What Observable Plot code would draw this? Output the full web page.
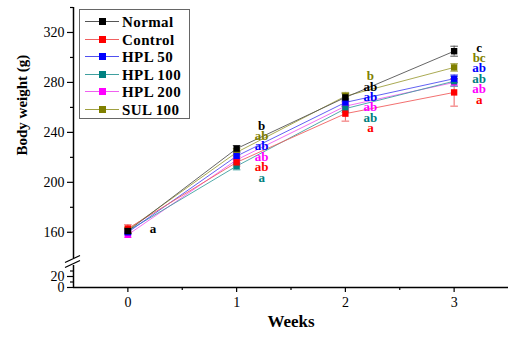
<!DOCTYPE html>
<html>
<head>
<meta charset="utf-8">
<script src="https://cdn.jsdelivr.net/npm/d3@7"></script>
<script src="https://cdn.jsdelivr.net/npm/@observablehq/plot@0.6"></script>
<style>
  html, body { margin: 0; padding: 0; background: #fff; }
  #wrap { position: relative; width: 508px; height: 337px; overflow: hidden; }
  #legend { position: absolute; left: 79px; top: 9px; width: 111px; height: 110px;
    border: 1px solid #666; background: #fff; box-sizing: border-box; }
  .row { position: absolute; left: 0; height: 18px; width: 110px; }
  .row .ln { position: absolute; left: 5px; top: 8px; width: 34px; height: 1px; }
  .row .sq { position: absolute; left: 19px; top: 5px; width: 7px; height: 7px; }
  .row .tx { position: absolute; left: 42px; top: 0px; font: bold 15px "Liberation Serif", serif;
    letter-spacing: 0.4px; line-height: 18px; white-space: nowrap; }
</style>
</head>
<body>
<div id="wrap"></div>
<script>
const weeks = [0, 1, 2, 3];
const groups = ["Normal", "Control", "HPL 50", "HPL 100", "HPL 200", "SUL 100"];
const colors = ["#000000", "#ff0000", "#0000ff", "#008080", "#ff00ff", "#808000"];
const lineColors = ["#555555", "#f06060", "#5050f0", "#40a0a0", "#f060f0", "#a0a040"];

const normalMean = [161, 227, 268, 305];
const controlMean = [163, 216, 255, 272];
const hpl50Mean = [160, 221, 264, 283];
const hpl100Mean = [161, 213, 259, 281];
const hpl200Mean = [158, 218, 261, 280];
const sul100Mean = [162, 224, 269, 292];

const normalSD = [2, 2.5, 3, 4];
const controlSD = [3, 3, 6, 11];
const hpl50SD = [2, 3, 3, 3];
const hpl100SD = [2, 3, 3, 4];
const hpl200SD = [2, 3, 3, 3];
const sul100SD = [2, 3, 3, 3];

// significance letters per week, top to bottom
const week0Letters = ["a"];
const week0LetterGroups = ["Normal"];
const week1Letters = ["b", "ab", "ab", "ab", "ab", "a"];
const week1LetterGroups = ["Normal", "SUL 100", "HPL 50", "HPL 200", "Control", "HPL 100"];
const week2Letters = ["b", "ab", "ab", "ab", "ab", "a"];
const week2LetterGroups = ["SUL 100", "Normal", "HPL 50", "HPL 200", "HPL 100", "Control"];
const week3Letters = ["c", "bc", "ab", "ab", "ab", "a"];
const week3LetterGroups = ["Normal", "SUL 100", "HPL 50", "HPL 100", "HPL 200", "Control"];

const yTicks = [0, 20, 160, 200, 240, 280, 320];
const yMinorTicks = [10, 30, 180, 220, 260, 300, 340];
const xTicks = [0, 1, 2, 3];
const xMinorTicks = [0.5, 1.5, 2.5];

const means = [normalMean, controlMean, hpl50Mean, hpl100Mean, hpl200Mean, sul100Mean];
const sds = [normalSD, controlSD, hpl50SD, hpl100SD, hpl200SD, sul100SD];

const data = [];
groups.forEach((g, gi) => weeks.forEach((w, wi) => {
  data.push({group: g, week: w, mean: means[gi][wi], sd: sds[gi][wi]});
}));
// draw order so that blue sits over teal etc.
const drawOrder = ["SUL 100", "HPL 200", "HPL 100", "HPL 50", "Control", "Normal"];
const sorted = drawOrder.flatMap(g => data.filter(d => d.group === g));

const letterSets = [
  [week0Letters, week0LetterGroups],
  [week1Letters, week1LetterGroups],
  [week2Letters, week2LetterGroups],
  [week3Letters, week3LetterGroups]
];
const labels = [];
letterSets.forEach(([lets, grps], wi) => {
  const wMean = d3.mean(means, m => m[wi]);
  const n = lets.length;
  lets.forEach((t, i) => {
    labels.push({week: weeks[wi], text: t, group: grps[i], y: wMean + ((n - 1) / 2 - i) * 8.4});
  });
});

const capHalf = 0.035;
const font = '"Liberation Serif", "Times New Roman", serif';

const plot = Plot.plot({
  width: 508,
  height: 337,
  marginLeft: 73,
  marginRight: 0,
  marginTop: 7,
  marginBottom: 50,
  style: {fontFamily: font, fontSize: "14px", color: "#000", background: "#fff", overflow: "visible"},
  x: {domain: [-0.5, 3.5], axis: null},
  y: {type: "linear", domain: [0, 40, 139, 340], range: [287, 265, 258, 7], axis: null},
  color: {domain: groups, range: colors},
  marks: [
    Plot.ruleY([0], {stroke: "#000", strokeWidth: 1.5}),
    Plot.ruleX([-0.5], {y1: 0, y2: 40, stroke: "#000", strokeWidth: 1.5}),
    Plot.ruleX([-0.5], {y1: 139, y2: 340, stroke: "#000", strokeWidth: 1.5}),
    Plot.axisY({ticks: yTicks, tickSize: 6, tickPadding: 3, tickFormat: d => String(d), label: null, fontSize: 14, strokeWidth: 1.2}),
    Plot.axisY({ticks: yMinorTicks, tickSize: 3, text: null, label: null, strokeWidth: 1.2}),
    Plot.axisX({ticks: xTicks, tickSize: 5, tickPadding: 5, tickFormat: d => String(d), label: null, fontSize: 14, strokeWidth: 1.2}),
    Plot.axisX({ticks: xMinorTicks, tickSize: 3, text: null, label: null, strokeWidth: 1.2}),
    Plot.line(sorted, {x: "week", y: "mean", z: "group", stroke: d => lineColors[groups.indexOf(d.group)], strokeWidth: 0.9}),
    Plot.ruleX(sorted, {x: "week", y1: d => d.mean - d.sd, y2: d => d.mean + d.sd, stroke: d => lineColors[groups.indexOf(d.group)], strokeWidth: 1}),
    Plot.link(sorted, {x1: d => d.week - capHalf, x2: d => d.week + capHalf, y1: d => d.mean + d.sd, y2: d => d.mean + d.sd, stroke: d => lineColors[groups.indexOf(d.group)], strokeWidth: 1}),
    Plot.link(sorted, {x1: d => d.week - capHalf, x2: d => d.week + capHalf, y1: d => d.mean - d.sd, y2: d => d.mean - d.sd, stroke: d => lineColors[groups.indexOf(d.group)], strokeWidth: 1}),
    Plot.dot(sorted, {x: "week", y: "mean", symbol: "square", r: 3.6, fill: "group", stroke: "none"}),
    Plot.text(labels.filter(d => d.week !== 1), {x: "week", y: "y", text: "text", fill: "group", dx: 25, dy: -2, textAnchor: "middle", fontWeight: "bold", fontSize: 13}),
    Plot.text(labels.filter(d => d.week === 1), {x: "week", y: "y", text: "text", fill: "group", dx: 25, dy: -6, textAnchor: "middle", fontWeight: "bold", fontSize: 13}),
    Plot.text(["Body weight (g)"], {frameAnchor: "left", rotate: -90, dx: -51, dy: 8, fontWeight: "bold", fontSize: 15, fill: "#000"}),
    Plot.text(["Weeks"], {frameAnchor: "bottom", dy: 39, dx: 0, fontWeight: "bold", fontSize: 17, fill: "#000"})
  ]
});

const wrap = document.getElementById("wrap");
wrap.appendChild(plot);

// axis break marks
const ys = plot.scale("y");
const xs = plot.scale("x");
const svg = d3.select(plot);
const x0 = xs.apply(-0.5);
[ys.apply(139) + 1, ys.apply(40) - 1].forEach(yc => {
  svg.append("line")
    .attr("x1", x0 - 8).attr("y1", yc + 3.5)
    .attr("x2", x0 + 7).attr("y2", yc - 3.5)
    .attr("stroke", "#000").attr("stroke-width", 1.3);
});

// legend
const legend = document.createElement("div");
legend.id = "legend";
groups.forEach((g, i) => {
  const row = document.createElement("div");
  row.className = "row";
  row.style.top = (3 + i * 17.6) + "px";
  row.innerHTML = `<div class="ln" style="background:${lineColors[i]}"></div>` +
    `<div class="sq" style="background:${colors[i]}"></div>` +
    `<div class="tx">${g}</div>`;
  legend.appendChild(row);
});
wrap.appendChild(legend);
</script>
</body>
</html>
